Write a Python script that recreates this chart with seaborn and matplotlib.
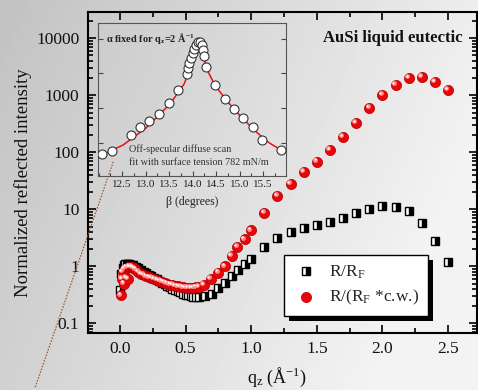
import numpy as np
import pandas as pd
import matplotlib
matplotlib.use("Agg")
import matplotlib.pyplot as plt
import seaborn as sns
from matplotlib import ticker, transforms
from matplotlib.lines import Line2D
from matplotlib.patches import Rectangle

# ---------------- data ----------------
q_rf = [0.0, 0.01, 0.02, 0.03, 0.04, 0.05, 0.06, 0.07, 0.08, 0.09, 0.10,
        0.12, 0.14, 0.16, 0.18, 0.20, 0.22, 0.24, 0.26, 0.28, 0.30, 0.32, 0.34,
        0.36, 0.38, 0.40, 0.42, 0.44, 0.46, 0.48, 0.50, 0.52, 0.54, 0.56, 0.58, 0.60,
        0.65, 0.70, 0.75, 0.80, 0.85, 0.90, 0.95, 1.00,
        1.1, 1.2, 1.3, 1.4, 1.5, 1.6, 1.7, 1.8, 1.9, 2.0, 2.1, 2.2, 2.3, 2.4, 2.5]
v_rf = [0.38, 0.75, 0.95, 1.08, 1.12, 1.12, 1.12, 1.1, 1.08, 1.06, 1.04,
        0.98, 0.92, 0.86, 0.81, 0.76, 0.71, 0.67, 0.63, 0.59, 0.55, 0.52, 0.49,
        0.46, 0.43, 0.41, 0.39, 0.37, 0.35, 0.33, 0.32, 0.31, 0.30, 0.295, 0.29, 0.29,
        0.30, 0.33, 0.42, 0.52, 0.68, 0.85, 1.1, 1.37,
        2.19, 3.15, 4.0, 4.77, 5.38, 6.0, 7.05, 8.6, 10.2, 11.4, 11.0, 9.2, 5.8, 2.8, 1.2]

q_cw = [0.01, 0.015, 0.02, 0.03, 0.035, 0.045, 0.05, 0.06, 0.07, 0.08, 0.09, 0.10, 0.11, 0.12,
        0.14, 0.16, 0.18, 0.20, 0.22, 0.24, 0.26, 0.28, 0.30, 0.32, 0.34, 0.36, 0.38, 0.40,
        0.42, 0.44, 0.46, 0.48, 0.50, 0.52, 0.54, 0.56, 0.58, 0.60,
        0.64, 0.69, 0.75, 0.80, 0.85, 0.895, 0.95, 1.0,
        1.1, 1.2, 1.3, 1.4, 1.5, 1.6, 1.7, 1.8, 1.9, 2.0, 2.1, 2.2, 2.3, 2.4, 2.5]
v_cw = [0.31, 0.6, 0.8, 0.5, 0.9, 0.62, 0.95, 0.6, 0.97, 0.98, 0.97, 0.95, 0.92, 0.88,
        0.8, 0.74, 0.7, 0.67, 0.64, 0.62, 0.6, 0.58, 0.56, 0.54, 0.52, 0.5, 0.48, 0.47,
        0.455, 0.445, 0.435, 0.43, 0.42, 0.415, 0.415, 0.42, 0.43, 0.44,
        0.47, 0.60, 0.78, 1.0, 1.52, 2.19, 2.98, 4.28,
        8.7, 17.1, 27.7, 44.9, 68.7, 109, 188, 330, 597, 1008, 1527, 2023, 2104, 1702, 1233]

beta_pts = [12.08, 12.28, 12.69, 12.88, 13.08, 13.29, 13.49, 13.69, 13.88, 13.91, 13.93,
            13.96, 14.0, 14.03, 14.07, 14.12, 14.16, 14.19, 14.22, 14.24, 14.28,
            14.48, 14.68, 14.88, 15.08, 15.28, 15.47, 15.88]
inten_pts = [4.74, 5.8, 16.5, 28.1, 43.5, 66.7, 144, 336, 972, 1423, 1986,
             2770, 3860, 5040, 6580, 7820, 8030, 6710, 4810, 3080, 1580,
             459, 181, 93, 53, 28.6, 12.1, 6.3]

beta_fit = [12.06, 12.52, 13.01, 13.52, 13.82, 13.97, 14.06, 14.14, 14.22, 14.33,
            14.48, 14.73, 15.03, 15.33, 15.63, 15.88]
inten_fit = [4.4, 8.6, 26.8, 132, 500, 1660, 4210, 7660, 3230, 1110,
             439, 161, 55.7, 21.9, 9.9, 6.2]

main_xticks = [0.0, 0.5, 1.0, 1.5, 2.0, 2.5]
inset_xticks = [12.5, 13.0, 13.5, 14.0, 14.5, 15.0, 15.5]

df_rf = pd.DataFrame({"q": q_rf, "v": v_rf})
df_cw = pd.DataFrame({"q": q_cw, "v": v_cw})
df_pts = pd.DataFrame({"beta": beta_pts, "I": inten_pts})
df_fit = pd.DataFrame({"beta": beta_fit, "I": inten_fit})

# ---------------- style ----------------
sns.set_style("ticks")
plt.rcParams["font.family"] = ["Liberation Serif", "DejaVu Serif"]
plt.rcParams["mathtext.fontset"] = "custom"
plt.rcParams["mathtext.rm"] = "Liberation Serif"
plt.rcParams["mathtext.it"] = "Liberation Serif:italic"
plt.rcParams["mathtext.bf"] = "Liberation Serif:bold"

W, H = 478, 390
fig = plt.figure(figsize=(W / 100, H / 100), dpi=100)

def px(x0, y0, x1, y1):
    return [x0 / W, 1 - y1 / H, (x1 - x0) / W, (y1 - y0) / H]

# background gradient
bg = fig.add_axes([0, 0, 1, 1], zorder=-10)
yy, xx = np.mgrid[0:1:100j, 0:1:100j]
grad = np.clip(0.76 + 0.17 * xx + 0.06 * yy, 0, 0.95)
bg.imshow(grad, cmap="gray", vmin=0, vmax=1, aspect="auto", extent=[0, 1, 0, 1])
bg.axis("off")

# ---------------- main axes ----------------
ax = fig.add_axes(px(87.7, 12.3, 477, 333))
ax.patch.set_alpha(0)

sns.lineplot(data=df_rf, x="q", y="v", ax=ax, estimator=None, sort=False, errorbar=None,
             linestyle="", marker="s", markersize=6.4, color="black",
             fillstyle="right", markerfacecolor="black", markerfacecoloralt="white",
             markeredgecolor="black", markeredgewidth=1.0, label="R/R$_\\mathrm{F}$", zorder=3)

sns.scatterplot(data=df_cw, x="q", y="v", ax=ax, s=54, color="#e8060a",
                edgecolor="#b00000", linewidth=0.5, label="R/(R$_\\mathrm{F}$ *c.w.)", zorder=4)
hl = transforms.offset_copy(ax.transData, fig=fig, x=-1.3, y=1.3, units="points")
ax.scatter(df_cw["q"], df_cw["v"], s=12, color="#ff8c8c", linewidth=0, zorder=5, transform=hl)
hl2 = transforms.offset_copy(ax.transData, fig=fig, x=-1.6, y=1.6, units="points")
ax.scatter(df_cw["q"], df_cw["v"], s=2.5, color="white", linewidth=0, zorder=6, transform=hl2)

ax.set_yscale("log")
ax.set_xlim(-0.246, 2.72)
ax.set_ylim(0.068, 28600)
ax.set_xticks(main_xticks)
ax.xaxis.set_major_formatter(ticker.FormatStrFormatter("%.1f"))
ax.xaxis.set_minor_locator(ticker.MultipleLocator(0.25))
ax.yaxis.set_major_locator(ticker.LogLocator(base=10, numticks=12))
ax.yaxis.set_minor_locator(ticker.LogLocator(base=10, subs=np.arange(2, 10), numticks=12))
ax.yaxis.set_minor_formatter(ticker.NullFormatter())
ax.yaxis.set_major_formatter(ticker.FuncFormatter(lambda v, p: f"{v:g}"))
ax.tick_params(which="both", direction="in", top=True, right=True, labelsize=12.5,
               width=1.2, color="black", labelcolor="#111111")
ax.tick_params(which="major", length=6, pad=6)
ax.tick_params(which="minor", length=3.5)
for s in ax.spines.values():
    s.set_linewidth(1.5)
    s.set_color("black")
ax.set_xlabel("")
ax.set_ylabel("")

fig.text(23 / W, 1 - 183 / H, "Normalized reflected intensity", rotation=90,
         ha="center", va="center", fontsize=13.5, color="#111111")
fig.text(277 / W, 1 - 377 / H, "q$_\\mathrm{z}$ (Å$^{-1}$)", ha="center", va="center",
         fontsize=13, color="#111111")
fig.text(393 / W, 1 - 38 / H, "AuSi liquid eutectic", ha="center", va="center",
         fontsize=12, fontweight="bold", color="#111111")

leg = ax.legend(loc="upper left", bbox_to_anchor=(0.504, 0.243),
                fontsize=12.5, frameon=True, fancybox=False, framealpha=1,
                edgecolor="black", borderpad=0.5, labelspacing=0.4, handletextpad=0.6,
                handlelength=1.5, borderaxespad=0)
leg.get_frame().set_linewidth(1.0)
leg.set_zorder(10)

# ---------------- inset ----------------
ins = fig.add_axes(px(97.7, 22.7, 285.7, 176))
ins.patch.set_alpha(0)
sns.lineplot(data=df_fit, x="beta", y="I", ax=ins, estimator=None, sort=False, errorbar=None,
             color="#e81010", linewidth=1.1, zorder=2)
sns.scatterplot(data=df_pts, x="beta", y="I", ax=ins, s=42, color="white",
                edgecolor="#333333", linewidth=0.8, zorder=3)
ins.set_yscale("log")
ins.set_xlim(11.98, 15.98)
ins.set_ylim(1.1, 29000)
ins.set_xticks(inset_xticks)
ins.xaxis.set_major_formatter(ticker.FormatStrFormatter("%.1f"))
ins.xaxis.set_minor_locator(ticker.MultipleLocator(0.25))
ins.yaxis.set_major_locator(ticker.LogLocator(base=10, numticks=10))
ins.yaxis.set_minor_locator(ticker.NullLocator())
ins.yaxis.set_major_formatter(ticker.NullFormatter())
ins.tick_params(which="both", direction="in", right=True, top=False, labelsize=8,
                color="#444444", labelcolor="#222222", width=0.8, pad=3)
ins.tick_params(which="major", length=3.5)
ins.tick_params(which="minor", length=2)
for s in ins.spines.values():
    s.set_linewidth(0.8)
    s.set_color("#555555")
ins.set_xlabel("β (degrees)", fontsize=8.5, labelpad=5, color="#222222")
ins.set_ylabel("")

fig.text(106 / W, 1 - 38 / H, "α fixed for q$_\\mathbf{z}$=2 Å$^\\mathbf{-1}$", ha="left",
         va="center", fontsize=7.5, fontweight="bold", color="#222222")
fig.text(129 / W, 1 - 149 / H, "Off-specular diffuse scan", ha="left", va="center",
         fontsize=7.3, color="#333333")
fig.text(129 / W, 1 - 162 / H, "fit with surface tension 782 mN/m", ha="left", va="center",
         fontsize=7.3, color="#333333")

# dotted guide line
fig.add_artist(Line2D([113.3 / W, 35 / W], [1 - 161.7 / H, 1 - 388 / H],
                      transform=fig.transFigure, linestyle=(0, (1.2, 1.2)),
                      color="#a0522d", linewidth=0.9))

# legend shadow (drawn inside the main axes, just below the legend)
fig.canvas.draw()
bb = leg.get_window_extent()
sh = Rectangle((bb.x0 + 5, bb.y0 - 5), bb.width, bb.height,
               transform=transforms.IdentityTransform(),
               facecolor="black", edgecolor="none", zorder=9, clip_on=False)
ax.add_artist(sh)

fig.savefig("out.png", dpi=100)
